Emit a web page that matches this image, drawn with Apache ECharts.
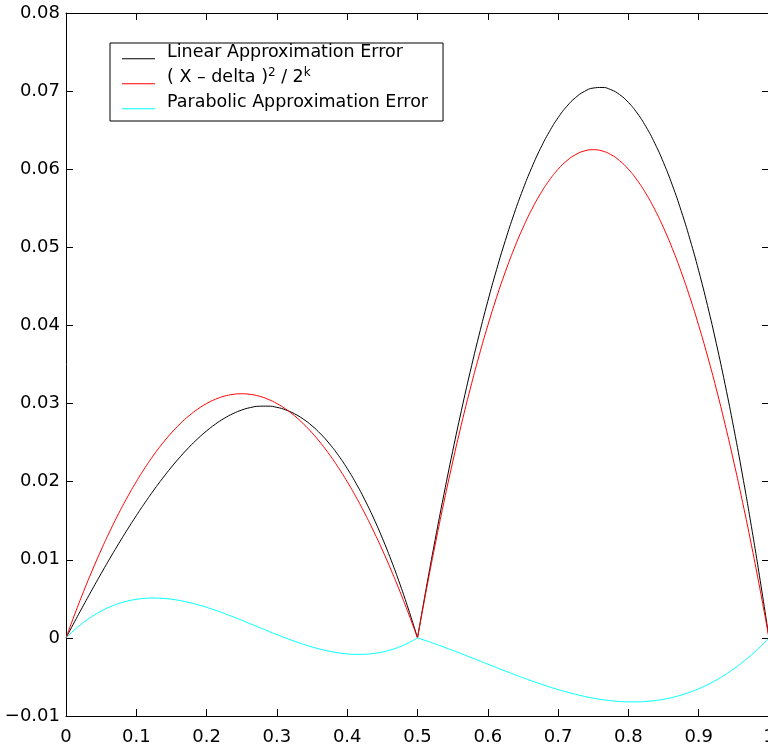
<!DOCTYPE html>
<html>
<head>
<meta charset="utf-8">
<script src="https://cdn.jsdelivr.net/npm/echarts@6/dist/echarts.min.js"></script>
<style>
html,body{margin:0;padding:0;background:#ffffff;}
#chart{width:768px;height:749px;}
</style>
</head>
<body>
<div id="chart"></div>
<script>
// x samples for the two segments
const xLeft  = [0,0.0125,0.025,0.0375,0.05,0.0625,0.075,0.0875,0.1,0.1125,0.125,0.1375,0.15,0.1625,0.175,0.1875,0.2,0.2125,0.225,0.2375,0.25,
                0.2625,0.275,0.2875,0.3,0.3125,0.325,0.3375,0.35,0.3625,0.375,0.3875,0.4,0.4125,0.425,0.4375,0.45,0.4625,0.475,0.4875,0.5];
const xRight = [0.5,0.5125,0.525,0.5375,0.55,0.5625,0.575,0.5875,0.6,0.6125,0.625,0.6375,0.65,0.6625,0.675,0.6875,0.7,0.7125,0.725,0.7375,0.75,
                0.7625,0.775,0.7875,0.8,0.8125,0.825,0.8375,0.85,0.8625,0.875,0.8875,0.9,0.9125,0.925,0.9375,0.95,0.9625,0.975,0.9875,1.0];

// Linear Approximation Error (black)
const linearLeft  = [0,0.002116,0.004199,0.006241,0.008238,0.010184,0.012072,0.013897,0.015652,0.017332,0.018932,0.020444,0.021864,0.023185,0.024401,0.025507,0.026496,0.027363,0.028102,0.028707,0.029172,
                     0.029491,0.029658,0.029668,0.029514,0.029190,0.028692,0.028012,0.027145,0.026085,0.024826,0.023363,0.021688,0.019797,0.017683,0.015342,0.012765,0.009949,0.006886,0.003572,0];
const linearRight = [0,0.006393,0.012506,0.018336,0.023878,0.029130,0.034086,0.038745,0.043100,0.047150,0.050889,0.054314,0.057422,0.060208,0.062670,0.064801,0.066600,0.068063,0.069184,0.069962,0.070391,
                     0.070468,0.070189,0.069552,0.068550,0.067182,0.065442,0.063328,0.060834,0.057959,0.054697,0.051046,0.047000,0.042557,0.037712,0.032462,0.026803,0.020731,0.014243,0.007334,0];

// ( X - delta )^2 / 2^k (red)
const boundLeft  = [0,0.003047,0.005938,0.008672,0.011250,0.013672,0.015938,0.018047,0.020000,0.021797,0.023438,0.024922,0.026250,0.027422,0.028438,0.029297,0.030000,0.030547,0.030938,0.031172,0.031250,
                    0.031172,0.030938,0.030547,0.030000,0.029297,0.028438,0.027422,0.026250,0.024922,0.023438,0.021797,0.020000,0.018047,0.015938,0.013672,0.011250,0.008672,0.005938,0.003047,0];
const boundRight = [0,0.006094,0.011875,0.017344,0.022500,0.027344,0.031875,0.036094,0.040000,0.043594,0.046875,0.049844,0.052500,0.054844,0.056875,0.058594,0.060000,0.061094,0.061875,0.062344,0.062500,
                    0.062344,0.061875,0.061094,0.060000,0.058594,0.056875,0.054844,0.052500,0.049844,0.046875,0.043594,0.040000,0.036094,0.031875,0.027344,0.022500,0.017344,0.011875,0.006094,0];

// Parabolic Approximation Error (cyan)
const parabolicLeft  = [0,0.001062,0.001984,0.002771,0.003431,0.003971,0.004397,0.004716,0.004935,0.005062,0.005102,0.005062,0.004950,0.004772,0.004535,0.004246,0.003911,0.003538,0.003133,0.002703,0.002255,
                        0.001796,0.001332,0.000871,0.000419,-0.000017,-0.000430,-0.000814,-0.001161,-0.001465,-0.001719,-0.001915,-0.002049,-0.002111,-0.002096,-0.001997,-0.001807,-0.001519,-0.001127,-0.000622,0];
const parabolicRight = [0,-0.000372,-0.000764,-0.001173,-0.001595,-0.002029,-0.002469,-0.002915,-0.003361,-0.003806,-0.004247,-0.004679,-0.005101,-0.005509,-0.005900,-0.006270,-0.006618,-0.006939,-0.007230,-0.007490,-0.007714,
                        -0.007899,-0.008043,-0.008142,-0.008193,-0.008193,-0.008140,-0.008029,-0.007858,-0.007624,-0.007324,-0.006954,-0.006512,-0.005995,-0.005399,-0.004721,-0.003959,-0.003108,-0.002167,-0.001132,0];

const seriesNames = ['Linear Approximation Error', '( X \u2013 delta )^2 / 2^k', 'Parabolic Approximation Error'];
const legendLabels = {
  'Linear Approximation Error': 'Linear Approximation Error',
  '( X \u2013 delta )^2 / 2^k': '( X \u2013 delta ){sup|2} / 2{sup|k}',
  'Parabolic Approximation Error': 'Parabolic Approximation Error'
};
const seriesColors = ['#000000', '#ff0000', '#00ffff'];

const xTicks = { min: 0, max: 1, interval: 0.1 };
const yTicks = { min: -0.01, max: 0.08, interval: 0.01 };

function zip(xs, ys) { return xs.map((x, i) => [x, ys[i]]); }

const FONT = 'DejaVu Sans';

function fmtY(v) {
  const r = Math.round(v * 100) / 100;
  return String(r).replace('-', '\u2212');
}
function fmtX(v) {
  const r = Math.round(v * 10) / 10;
  return String(r);
}

const axisLine = { show: true, onZero: false, lineStyle: { color: '#000', width: 1 } };
const axisTick = { show: true, inside: true, length: 7, lineStyle: { color: '#000', width: 1 } };

function lineSeries(name, color, xs, ys) {
  return {
    type: 'line',
    name: name,
    data: zip(xs, ys),
    smooth: true,
    symbol: 'none',
    showSymbol: false,
    lineStyle: { color: color, width: 1 },
    itemStyle: { color: color },
    emphasis: { disabled: true },
    xAxisIndex: 0,
    yAxisIndex: 0,
    z: 2
  };
}

const chart = echarts.init(document.getElementById('chart'), null, { renderer: 'canvas' });

chart.setOption({
  animation: false,
  backgroundColor: '#ffffff',
  grid: { left: 66, top: 13, width: 703, height: 703, containLabel: false, outerBoundsMode: 'none' },
  xAxis: [
    {
      type: 'value', min: xTicks.min, max: xTicks.max, interval: xTicks.interval, position: 'bottom',
      axisLine: axisLine, axisTick: axisTick, splitLine: { show: false },
      axisLabel: { show: true, margin: 12, color: '#000', fontFamily: FONT, fontSize: 18, formatter: fmtX, showMaxLabel: true, showMinLabel: true, hideOverlap: false }
    },
    {
      type: 'value', min: xTicks.min, max: xTicks.max, interval: xTicks.interval, position: 'top',
      axisLine: axisLine, axisTick: axisTick, splitLine: { show: false }, axisLabel: { show: false }
    }
  ],
  yAxis: [
    {
      type: 'value', min: yTicks.min, max: yTicks.max, interval: yTicks.interval, position: 'left',
      axisLine: axisLine, axisTick: axisTick, splitLine: { show: false },
      axisLabel: { show: true, margin: 6, color: '#000', fontFamily: FONT, fontSize: 18, formatter: fmtY, showMaxLabel: true, showMinLabel: true, hideOverlap: false }
    },
    {
      type: 'value', min: yTicks.min, max: yTicks.max, interval: yTicks.interval, position: 'right',
      axisLine: axisLine, axisTick: axisTick, splitLine: { show: false }, axisLabel: { show: false }
    }
  ],
  legend: {
    data: seriesNames,
    orient: 'vertical',
    left: 110,
    top: 43,
    padding: [0, 15, 9, 12],
    itemGap: 4.5,
    itemWidth: 33,
    itemHeight: 19,
    // short sample line drawn at the text baseline (the bare moves set the icon box)
    icon: 'path://M0,0 M33,19 M0,15.3 L33,15.3 L33,16.3 L0,16.3 Z',
    symbolKeepAspect: true,
    selectedMode: false,
    borderColor: '#000',
    borderWidth: 1,
    borderRadius: 0,
    backgroundColor: '#ffffff',
    formatter: function (n) { return legendLabels[n]; },
    textStyle: {
      fontFamily: FONT, fontSize: 17.5, color: '#000', padding: [0, 0, 0, 7],
      rich: {
        sup: { fontFamily: FONT, fontSize: 12, color: '#000', lineHeight: 8, padding: [0, 0, 10, 0] }
      }
    }
  },
  series: [
    lineSeries(seriesNames[0], seriesColors[0], xLeft, linearLeft),
    lineSeries(seriesNames[0], seriesColors[0], xRight, linearRight),
    lineSeries(seriesNames[1], seriesColors[1], xLeft, boundLeft),
    lineSeries(seriesNames[1], seriesColors[1], xRight, boundRight),
    lineSeries(seriesNames[2], seriesColors[2], xLeft, parabolicLeft),
    lineSeries(seriesNames[2], seriesColors[2], xRight, parabolicRight)
  ]
});
</script>
</body>
</html>
